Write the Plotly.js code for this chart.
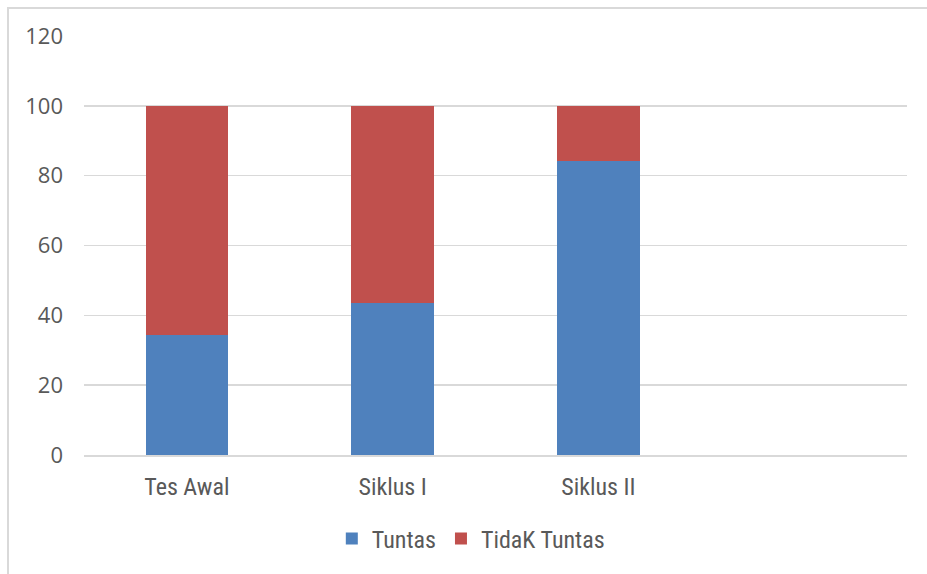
<!DOCTYPE html>
<html>
<head>
<meta charset="utf-8">
<script src="https://cdn.plot.ly/plotly-3.0.1.min.js"></script>
<style>
html,body{margin:0;padding:0;background:#fff;}
#wrap{position:relative;width:927px;height:574px;}
#chart{width:927px;height:574px;}
#frame{position:absolute;left:7px;top:7px;width:930px;height:580px;border-left:2px solid #D9D9D9;border-top:2px solid #D9D9D9;pointer-events:none;}
</style>
</head>
<body>
<div id="wrap"><div id="chart"></div><div id="frame"></div></div>
<script>
var categories = ["Tes Awal", "Siklus I", "Siklus II"];
var tuntas = [34.3, 43.6, 84.2];
var tidakTuntas = [65.7, 56.4, 15.8];
var yTicks = [0, 20, 40, 60, 80, 100, 120];

var traces = [
  {type:'bar', name:'Tuntas', x:categories, y:tuntas, marker:{color:'#4F81BD'}, hoverinfo:'y'},
  {type:'bar', name:'TidaK Tuntas', x:categories, y:tidakTuntas, marker:{color:'#C0504D'}, hoverinfo:'y'}
];

var layout = {
  width:927, height:574,
  barmode:'stack', bargap:0.6,
  margin:{l:84, r:20, t:36, b:119},
  paper_bgcolor:'#fff', plot_bgcolor:'#fff',
  font:{family:'Open Sans, Noto Sans, sans-serif', color:'#595959', size:19},
  xaxis:{
    type:'category', categoryorder:'array', categoryarray:categories,
    range:[-0.5, 3.5], showgrid:false, zeroline:false,
    showline:true, linecolor:'#D9D9D9', linewidth:2,
    ticks:'', ticklabelstandoff:9,
    tickfont:{family:'Roboto Condensed, Open Sans, sans-serif', size:24, color:'#595959'}
  },
  yaxis:{
    range:[0,120], tickvals:yTicks, showgrid:true, gridcolor:'#D9D9D9', gridwidth:1.5,
    zeroline:false, showline:false, ticks:'', ticklabelstandoff:20,
    tickfont:{family:'Open Sans, Noto Sans, sans-serif', size:22, color:'#595959'}
  },
  showlegend:true,
  legend:{orientation:'h', x:0.47, xanchor:'center', y:-0.2, yanchor:'middle',
    font:{family:'Roboto Condensed, Open Sans, sans-serif', size:24, color:'#595959'},
    itemwidth:30, traceorder:'normal'}
};

Plotly.newPlot('chart', traces, layout, {displayModeBar:false, staticPlot:true});
</script>
</body>
</html>
